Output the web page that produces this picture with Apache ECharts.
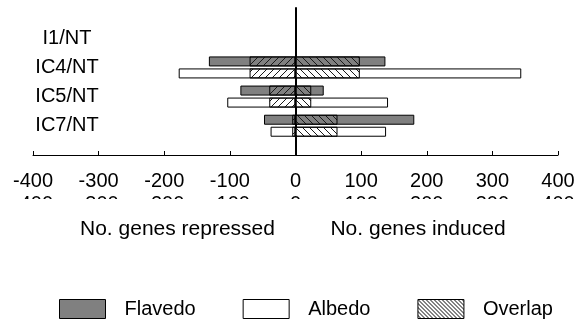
<!DOCTYPE html>
<html>
<head>
<meta charset="utf-8">
<script src="https://cdn.jsdelivr.net/npm/echarts@6/dist/echarts.min.js"></script>
<style>html,body{margin:0;padding:0;background:#fff}#c{width:582px;height:326px}</style>
</head>
<body>
<div id="c"></div>
<script>
// ---- data ----
var categories = ['I1/NT', 'IC4/NT', 'IC5/NT', 'IC7/NT'];
var flavedoRepressed = [null, -132, -84, -48];
var flavedoInduced   = [null, 137, 43, 181];
var albedoRepressed  = [null, -178, -104, -38];
var albedoInduced    = [null, 344, 141, 138];
var overlapRepressed = [null, -70, -40, -5];
var overlapInduced   = [null, 98, 24, 64];
var xTicks = [-400, -300, -200, -100, 0, 100, 200, 300, 400];
var legendNames = ['Flavedo', 'Albedo', 'Overlap'];
var axisTitles = ['No. genes repressed', 'No. genes induced'];

// ---- hatch patterns ----
function hatch(size, dir, color, bg, lw) {
  var c = document.createElement('canvas');
  c.width = size; c.height = size;
  var g = c.getContext('2d');
  if (bg) { g.fillStyle = bg; g.fillRect(0, 0, size, size); }
  g.strokeStyle = color; g.lineWidth = lw;
  for (var k = -1; k <= 1; k++) {
    g.beginPath();
    if (dir === 'back') { g.moveTo(k * size, 0); g.lineTo(k * size + size, size); }
    else { g.moveTo(k * size + size, 0); g.lineTo(k * size, size); }
    g.stroke();
  }
  return { image: c, repeat: 'repeat' };
}
var patNeg = hatch(7, 'fwd', '#1a1a1a', null, 1);
var patPos = hatch(7, 'back', '#1a1a1a', null, 1);
var patLegend = hatch(4, 'back', '#000', '#fff', 1);

var FONT = '"Liberation Sans", Arial, sans-serif';
var chart = echarts.init(document.getElementById('c'), null, { renderer: 'canvas' });

var L = 33, R = 24;
var barBase = { type: 'bar', barWidth: 10, barGap: '20%', animation: false };
function bar(name, yIdx, stack, data, color) {
  return Object.assign({}, barBase, {
    name: name, xAxisIndex: 0, yAxisIndex: yIdx, stack: stack, data: data,
    itemStyle: { color: color, borderColor: '#000', borderWidth: 1 }
  });
}

chart.setOption({
  animation: false,
  textStyle: { fontFamily: FONT },
  grid: [
    { left: L, right: R, top: 23.7, height: 116.6 },
    { left: L, right: R, top: 8, bottom: 171 }
  ],
  xAxis: [
    { type: 'value', gridIndex: 0, min: -400, max: 400, show: false },
    { type: 'value', gridIndex: 1, min: xTicks[0], max: xTicks[xTicks.length - 1], interval: 100,
      axisLine: { show: true, onZero: false, lineStyle: { color: '#000', width: 1 } },
      axisTick: { show: true, inside: true, length: 4, lineStyle: { color: '#000' } },
      axisLabel: { fontSize: 20, margin: 16, color: '#000', fontFamily: FONT },
      splitLine: { show: false } },
    { type: 'value', gridIndex: 1, min: xTicks[0], max: xTicks[xTicks.length - 1], interval: 100,
      position: 'bottom',
      axisLine: { show: false, onZero: false }, axisTick: { show: false },
      axisLabel: { fontSize: 20, margin: 39, color: '#000', fontFamily: FONT },
      splitLine: { show: false } }
  ],
  yAxis: [
    { type: 'category', gridIndex: 0, data: categories, inverse: true,
      axisLine: { show: false, onZero: false }, axisTick: { show: false },
      axisLabel: { align: 'center', margin: -34, fontSize: 20, color: '#000', fontFamily: FONT,
        padding: [4, 0, 0, 0] } },
    { type: 'category', gridIndex: 0, data: categories, inverse: true, show: false,
      axisLine: { onZero: false } },
    { type: 'value', gridIndex: 1, min: 0, max: 1,
      axisLine: { show: true, onZero: true, lineStyle: { color: '#000', width: 2 } },
      axisTick: { show: false }, axisLabel: { show: false }, splitLine: { show: false } }
  ],
  legend: {
    data: [
      { name: legendNames[0] },
      { name: legendNames[1] },
      { name: legendNames[2], itemStyle: { color: patLegend } }
    ],
    left: 59, top: 299, padding: 0, icon: 'rect', itemWidth: 46, itemHeight: 19, itemGap: 47,
    itemStyle: { borderColor: '#000', borderWidth: 1 },
    textStyle: { fontSize: 20, color: '#000', fontFamily: FONT, padding: [0, 0, 0, 14] },
    selectedMode: false
  },
  series: [
    bar(legendNames[0], 0, 'f', flavedoRepressed, '#808080'),
    bar(legendNames[0], 0, 'f', flavedoInduced, '#808080'),
    bar(legendNames[1], 0, 'a', albedoRepressed, '#ffffff'),
    bar(legendNames[1], 0, 'a', albedoInduced, '#ffffff'),
    bar(legendNames[2], 1, 'of', overlapInduced, patPos),
    bar(legendNames[2], 1, 'of', overlapRepressed, patNeg),
    bar(legendNames[2], 1, 'oa', overlapInduced, patPos),
    bar(legendNames[2], 1, 'oa', overlapRepressed, patNeg)
  ],
  graphic: [
    { type: 'rect', z: 100, shape: { x: 0, y: 199, width: 582, height: 16 }, style: { fill: '#fff' } },
    { type: 'text', z: 101, style: { text: axisTitles[0], x: 177.5, y: 229, fill: '#000',
      font: '21px ' + FONT, align: 'center', verticalAlign: 'middle' } },
    { type: 'text', z: 101, style: { text: axisTitles[1], x: 418, y: 229, fill: '#000',
      font: '21px ' + FONT, align: 'center', verticalAlign: 'middle' } }
  ]
});
</script>
</body>
</html>
